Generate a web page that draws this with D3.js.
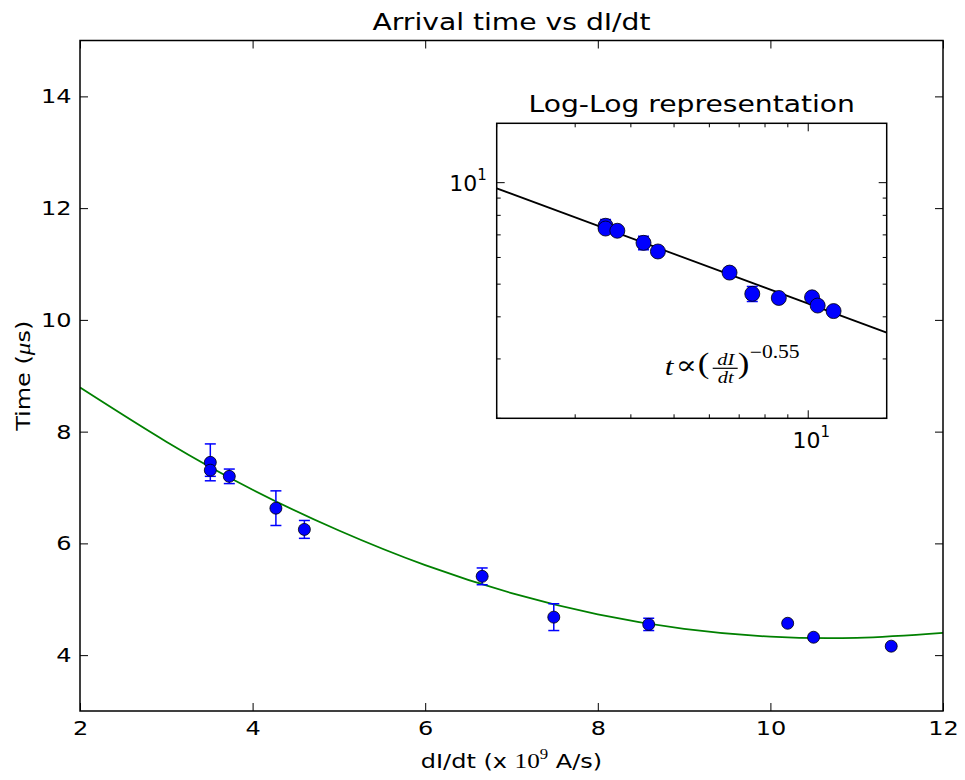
<!DOCTYPE html>
<html lang="en">
<head>
  <meta charset="UTF-8">
  <title>Arrival time vs dI/dt</title>
  <script src="https://cdn.jsdelivr.net/npm/d3@7"></script>
  <style>
    body { margin: 0; background: #fff; }
    text { font-family: "DejaVu Sans", sans-serif; fill: #000; }
    .math { font-family: "Liberation Serif", "DejaVu Serif", serif; }
  </style>
</head>
<body>
  <svg width="965" height="780"></svg>
  <script>
    // measured points: dI/dt (x 1e9 A/s), arrival time (us), error (us)
    var dIdt    = [3.51, 3.51, 3.73, 4.27, 4.60, 6.66, 7.49, 8.59, 10.20, 10.50, 11.40];
    var arrival = [7.45, 7.31, 7.20, 6.63, 6.25, 5.41, 4.68, 4.55, 4.57, 4.32, 4.16];
    var errs    = [0.33, 0.11, 0.13, 0.31, 0.16, 0.15, 0.24, 0.11, 0.03, 0.03, 0.03];

    // green fitted curve
    var fitX = [2, 3, 4, 5, 6, 7, 8, 9, 10, 11, 12];
    var fitY = [8.79, 7.82, 6.96, 6.23, 5.61, 5.11, 4.73, 4.47, 4.33, 4.31, 4.40];

    // black power-law line of the inset, end points
    var powX = [2, 15];
    var powY = [9.62, 3.59];

    var xTicks = [2, 4, 6, 8, 10, 12];
    var yTicks = [4, 6, 8, 10, 12, 14];

    var sx = 1.2; // text in the reference is drawn wider than plain DejaVu

    var svg = d3.select('svg');
    var margin = {top: 40.5, right: 22, bottom: 69, left: 80};
    var width = 965 - margin.left - margin.right;
    var height = 780 - margin.top - margin.bottom;

    var chart = svg.append('g')
      .attr('transform', 'translate(' + margin.left + ',' + margin.top + ')');

    var x = d3.scaleLinear().domain([2, 12]).range([0, width]);
    var y = d3.scaleLinear().domain([3, 15]).range([height, 0]);

    var defs = svg.append('defs');
    defs.append('clipPath').attr('id', 'main-clip')
      .append('rect').attr('width', width).attr('height', height);

    // text with a horizontal stretch, placed at (px, py)
    function wideText(parent, px, py, anchor, size, rot) {
      var g = parent.append('g')
        .attr('transform', 'translate(' + px + ',' + py + ')' + (rot ? ' rotate(' + rot + ')' : '') + ' scale(' + sx + ',1)');
      return g.append('text').attr('text-anchor', anchor).style('font-size', size + 'px');
    }

    var tickLen = 8;
    function styleAxis(g) {
      g.select('.domain').remove();
      g.selectAll('.tick line').attr('stroke', '#000').attr('stroke-width', 1);
      g.selectAll('.tick text')
        .style('font-size', '20px')
        .style('font-family', '"DejaVu Sans", sans-serif')
        .attr('transform', 'scale(' + sx + ',1)');
    }

    chart.append('g')
      .attr('transform', 'translate(0,' + height + ')')
      .call(d3.axisBottom(x).tickValues(xTicks).tickSizeInner(-tickLen).tickSizeOuter(0).tickPadding(10).tickFormat(d3.format('d')))
      .call(styleAxis);
    chart.append('g')
      .call(d3.axisTop(x).tickValues(xTicks).tickSizeInner(-tickLen).tickSizeOuter(0).tickFormat(''))
      .call(styleAxis);
    chart.append('g')
      .call(d3.axisLeft(y).tickValues(yTicks).tickSizeInner(-tickLen).tickSizeOuter(0).tickPadding(7).tickFormat(d3.format('d')))
      .call(styleAxis);
    chart.append('g')
      .attr('transform', 'translate(' + width + ',0)')
      .call(d3.axisRight(y).tickValues(yTicks).tickSizeInner(-tickLen).tickSizeOuter(0).tickFormat(''))
      .call(styleAxis);

    var pts = dIdt.map(function(d, i) {
      return {x: d, y: arrival[i], e: errs[i]};
    });
    var fit = fitX.map(function(d, i) { return {x: d, y: fitY[i]}; });

    var plot = chart.append('g').attr('clip-path', 'url(#main-clip)');
    plot.append('path')
      .datum(fit)
      .attr('fill', 'none')
      .attr('stroke', '#008000')
      .attr('stroke-width', 1.8)
      .attr('d', d3.line().curve(d3.curveNatural)
        .x(function(d) { return x(d.x); })
        .y(function(d) { return y(d.y); }));

    function errorBars(g, pts, xs, ys, cap, r) {
      var eb = g.selectAll('.err').data(pts).enter().append('g').attr('class', 'err')
        .attr('stroke', '#0000ff').attr('stroke-width', 1.5);
      eb.append('line')
        .attr('x1', function(d) { return xs(d.x); })
        .attr('x2', function(d) { return xs(d.x); })
        .attr('y1', function(d) { return ys(d.y - d.e); })
        .attr('y2', function(d) { return ys(d.y + d.e); });
      [-1, 1].forEach(function(s) {
        eb.append('line')
          .attr('x1', function(d) { return xs(d.x) - cap; })
          .attr('x2', function(d) { return xs(d.x) + cap; })
          .attr('y1', function(d) { return ys(d.y + s * d.e); })
          .attr('y2', function(d) { return ys(d.y + s * d.e); });
      });
      g.selectAll('.dot').data(pts).enter().append('circle')
        .attr('class', 'dot')
        .attr('cx', function(d) { return xs(d.x); })
        .attr('cy', function(d) { return ys(d.y); })
        .attr('r', r)
        .attr('fill', '#0000ff')
        .attr('stroke', '#000')
        .attr('stroke-width', 0.8);
    }
    errorBars(plot, pts, x, y, 5.5, 6);

    chart.append('rect')
      .attr('width', width).attr('height', height)
      .attr('fill', 'none').attr('stroke', '#000').attr('stroke-width', 1.5);

    // titles and labels
    wideText(svg, margin.left + width / 2, 30, 'middle', 23.5).text('Arrival time vs dI/dt');

    var xl = wideText(svg, margin.left + width / 2, 768, 'middle', 20);
    xl.append('tspan').text('dI/dt (x ');
    xl.append('tspan').attr('class', 'math').style('font-size', '21px').text('10');
    xl.append('tspan').attr('class', 'math').attr('dy', -9).style('font-size', '14px').text('9');
    xl.append('tspan').attr('dy', 9).text(' A/s)');

    var yl = wideText(svg, 30, margin.top + height / 2, 'middle', 20, -90);
    yl.append('tspan').text('Time (');
    yl.append('tspan').attr('class', 'math').style('font-style', 'italic').style('font-size', '21px').text('\u03bc');
    yl.append('tspan').text('s)');

    // inset log-log axes
    var inset = {left: 496.7, top: 123.3, width: 390, height: 295};
    var ig = svg.append('g')
      .attr('transform', 'translate(' + inset.left + ',' + inset.top + ')');
    ig.append('rect')
      .attr('width', inset.width).attr('height', inset.height)
      .attr('fill', '#fff');

    var ix = d3.scaleLog().domain([2, 15]).range([0, inset.width]);
    var iy = d3.scaleLog().domain([2, 15]).range([inset.height, 0]);
    defs.append('clipPath').attr('id', 'inset-clip')
      .append('rect').attr('width', inset.width).attr('height', inset.height);

    var minorVals = [2, 3, 4, 5, 6, 7, 8, 9, 10];
    function insetTicks(g, scale, orient) {
      var t = g.selectAll(null).data(minorVals).enter().append('g');
      t.each(function(v) {
        var sel = d3.select(this);
        var L = v === 10 ? 8 : 4;
        var p = scale(v);
        if (orient === 'x') {
          sel.append('line').attr('x1', p).attr('x2', p).attr('y1', inset.height).attr('y2', inset.height - L);
          sel.append('line').attr('x1', p).attr('x2', p).attr('y1', 0).attr('y2', L);
        } else {
          sel.append('line').attr('y1', p).attr('y2', p).attr('x1', 0).attr('x2', L);
          sel.append('line').attr('y1', p).attr('y2', p).attr('x1', inset.width).attr('x2', inset.width - L);
        }
      });
      t.selectAll('line').attr('stroke', '#000').attr('stroke-width', 1);
    }
    insetTicks(ig, ix, 'x');
    insetTicks(ig, iy, 'y');

    var ip = ig.append('g').attr('clip-path', 'url(#inset-clip)');
    var pow = powX.map(function(d, i) { return {x: d, y: powY[i]}; });
    ip.append('path')
      .datum(pow)
      .attr('fill', 'none')
      .attr('stroke', '#000')
      .attr('stroke-width', 1.8)
      .attr('d', d3.line()
        .x(function(d) { return ix(d.x); })
        .y(function(d) { return iy(d.y); }));
    errorBars(ip, pts, ix, iy, 5.5, 7.5);

    ig.append('rect')
      .attr('width', inset.width).attr('height', inset.height)
      .attr('fill', 'none').attr('stroke', '#000').attr('stroke-width', 1.5);

    function tenLabel(g, px, py, anchor) {
      var t = g.append('text').attr('x', px).attr('y', py)
        .attr('text-anchor', anchor).style('font-size', '22px');
      t.append('tspan').text('10');
      t.append('tspan').attr('dy', -11).style('font-size', '15px').text('1');
    }
    tenLabel(ig, ix(10) + 3, inset.height + 30, 'middle');
    tenLabel(ig, -10, iy(10) + 8, 'end');

    wideText(ig, inset.width / 2, -11, 'middle', 23.5).text('Log-Log representation');

    // formula t ∝ (dI/dt)^-0.55, placed in inset coordinates
    var fx = 168, fy = 252;
    var fm = ig.append('g').attr('transform', 'translate(' + fx + ',' + fy + ')');
    wideText(fm, 0, 0, 'start', 26).attr('class', 'math').style('font-style', 'italic').text('t');
    wideText(fm, 11, -1, 'start', 26).attr('class', 'math').text('\u221d');
    wideText(fm, 33, -2, 'start', 29).attr('class', 'math').text('(');
    wideText(fm, 61, -10, 'middle', 17).attr('class', 'math').style('font-style', 'italic').text('dI');
    fm.append('line').attr('x1', 48).attr('x2', 73).attr('y1', -7).attr('y2', -7)
      .attr('stroke', '#000').attr('stroke-width', 1.2);
    wideText(fm, 61, 8, 'middle', 17).attr('class', 'math').style('font-style', 'italic').text('dt');
    wideText(fm, 73, -2, 'start', 29).attr('class', 'math').text(')');
    wideText(fm, 85, -17, 'start', 18).attr('class', 'math').text('\u22120.55');
  </script>
</body>
</html>
